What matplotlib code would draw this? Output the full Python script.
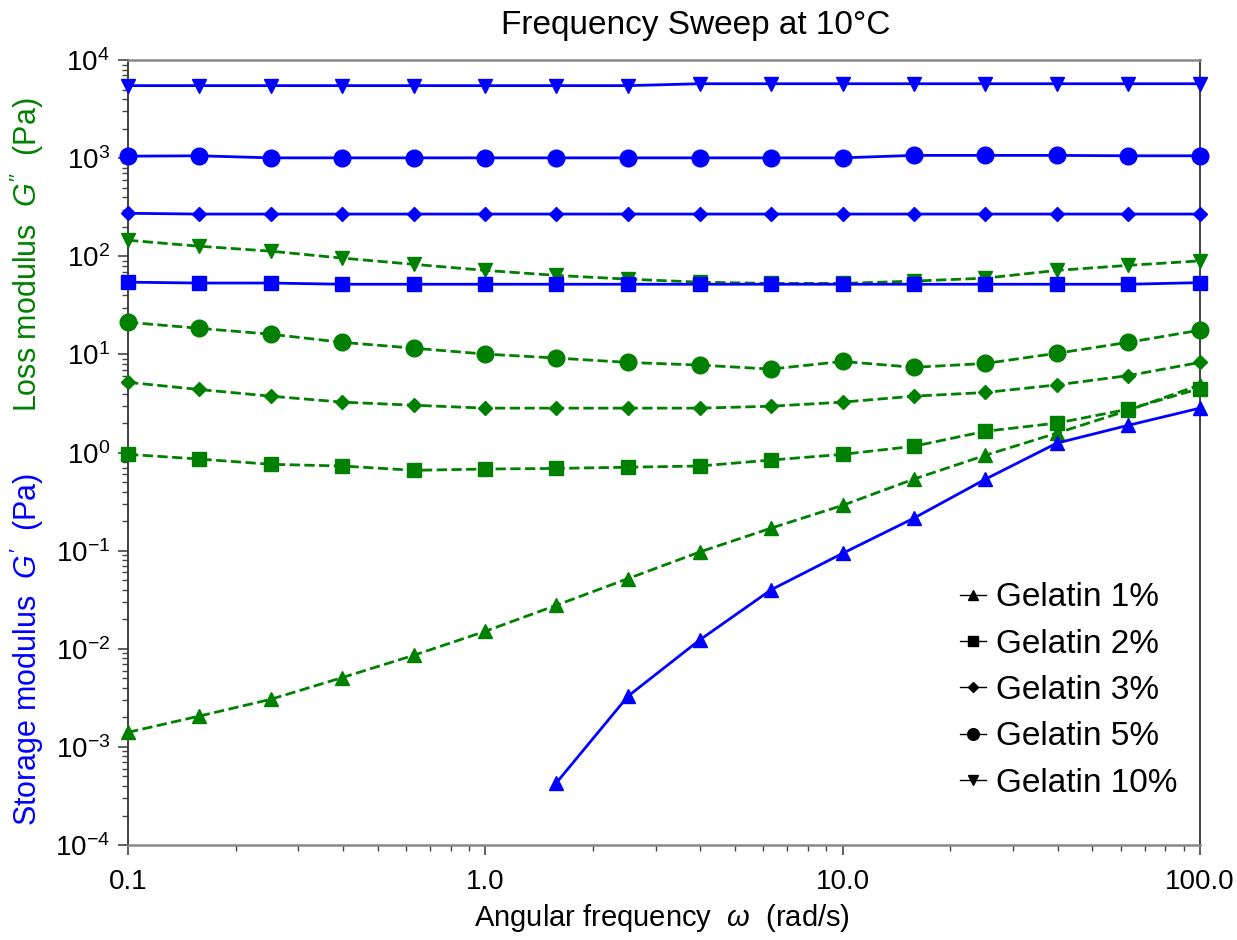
import matplotlib.pyplot as plt
from matplotlib.lines import Line2D
from matplotlib.ticker import FixedLocator, FixedFormatter, NullFormatter, LogFormatterSciNotation

plt.rcParams['font.family'] = ['Liberation Sans', 'DejaVu Sans']
plt.rcParams['mathtext.fontset'] = 'custom'
plt.rcParams['mathtext.rm'] = 'Liberation Sans'
plt.rcParams['mathtext.it'] = 'Liberation Sans:italic'

# angular frequency (rad/s)
freq = [0.1, 0.158, 0.251, 0.398, 0.631, 1.0, 1.58, 2.51, 3.98, 6.31,
        10.0, 15.8, 25.1, 39.8, 63.1, 100.0]

# storage modulus G' (Pa)
gp_1 = [None, None, None, None, None, None, 4.3e-4, 3.3e-3, 0.0123, 0.040,
        0.094, 0.214, 0.536, 1.25, 1.90, 2.84]
gp_2 = [54.6, 53.5, 53.5, 52, 52, 52, 52, 52, 52, 52, 52, 52, 52, 52, 52, 54]
gp_3 = [275, 270, 270, 270, 270, 270, 270, 270, 270, 270, 270, 270, 270, 270, 270, 270]
gp_5 = [1050, 1060, 1010, 1010, 1010, 1010, 1010, 1010, 1010, 1010, 1010,
        1070, 1070, 1070, 1060, 1060]
gp_10 = [5500, 5500, 5500, 5500, 5500, 5500, 5500, 5500, 5750, 5750, 5750,
         5750, 5750, 5750, 5750, 5750]

# loss modulus G'' (Pa)
gpp_1 = [1.41e-3, 2.06e-3, 3.06e-3, 5.1e-3, 8.6e-3, 0.0151, 0.0278, 0.052,
         0.097, 0.17, 0.29, 0.536, 0.94, 1.58, 2.7, 4.9]
gpp_2 = [0.96, 0.86, 0.76, 0.73, 0.66, 0.68, 0.69, 0.71, 0.73, 0.84, 0.96,
         1.16, 1.65, 2.0, 2.77, 4.5]
gpp_3 = [5.2, 4.4, 3.76, 3.27, 3.04, 2.84, 2.84, 2.84, 2.84, 2.97, 3.27,
         3.76, 4.1, 4.9, 6.1, 8.3]
gpp_5 = [21.3, 18.5, 16.1, 13.3, 11.6, 10.1, 9.2, 8.3, 7.8, 7.1, 8.5, 7.4,
         8.1, 10.3, 13.3, 17.7]
gpp_10 = [146, 127, 113, 96, 83, 72, 64, 58.6, 54.6, 53, 53, 56, 60, 72, 81, 90]

labels = ['Gelatin 1%', 'Gelatin 2%', 'Gelatin 3%', 'Gelatin 5%', 'Gelatin 10%']
markers = ['^', 's', 'D', 'o', 'v']
msizes = [10, 10, 7, 12, 10]

blue = '#0000ff'
green = '#008000'

fig = plt.figure(figsize=(12.37, 9.4), dpi=100)
ax = fig.add_axes([0.1035, 0.101, 0.8665, 0.835])

for ys, m, ms in zip([gpp_1, gpp_2, gpp_3, gpp_5, gpp_10], markers, msizes):
    ax.plot(freq, ys, color=green, ls='--', lw=2, marker=m, ms=ms, clip_on=False, zorder=3)

for ys, m, ms in zip([gp_1, gp_2, gp_3, gp_5, gp_10], markers, msizes):
    xx = [f for f, y in zip(freq, ys) if y is not None]
    yy = [y for y in ys if y is not None]
    ax.plot(xx, yy, color=blue, ls='-', lw=2, marker=m, ms=ms, clip_on=False, zorder=4)

ax.set_xscale('log')
ax.set_yscale('log')
ax.set_xlim(0.1, 100)
ax.set_ylim(1e-4, 1e4)

# ticks kept inside the view range only
xminor = [k * 10.0 ** e for e in range(-1, 2) for k in range(2, 10)]
yminor = [k * 10.0 ** e for e in range(-4, 4) for k in range(2, 10)]
ax.xaxis.set_major_locator(FixedLocator([0.1, 1, 10, 100]))
ax.xaxis.set_major_formatter(FixedFormatter(['0.1', '1.0', '10.0', '100.0']))
ax.xaxis.set_minor_locator(FixedLocator(xminor))
ax.xaxis.set_minor_formatter(NullFormatter())
ax.yaxis.set_major_locator(FixedLocator([10.0 ** e for e in range(-4, 5)]))
ax.yaxis.set_major_formatter(LogFormatterSciNotation())
ax.yaxis.set_minor_locator(FixedLocator(yminor))
ax.yaxis.set_minor_formatter(NullFormatter())

ax.tick_params(axis='both', which='major', direction='out', length=7, width=1.2,
               labelsize=20, color='#444444', pad=6)
ax.tick_params(axis='both', which='minor', direction='out', length=4, width=1, color='#444444')
ax.tick_params(axis='x', which='major', pad=10)
ax.tick_params(top=False, right=False, which='both')

for side in ['left', 'right']:
    ax.spines[side].set_color('#333333')
    ax.spines[side].set_linewidth(1.3)
for side in ['top', 'bottom']:
    ax.spines[side].set_color('#888888')
    ax.spines[side].set_linewidth(1.8)

ax.set_xlabel(r'Angular frequency  $\omega$  (rad/s)', fontsize=21)
ax.xaxis.set_label_coords(0.498, -0.072)
fig.text(0.562, 0.973, 'Frequency Sweep at 10°C', ha='center', va='center', fontsize=24)

fig.text(0.022, 0.309, r"Storage modulus  $\mathit{G'}$  (Pa)", color=blue, fontsize=22,
         rotation=90, ha='center', va='center')
fig.text(0.022, 0.729, r"Loss modulus  $\mathit{G''}$  (Pa)", color=green, fontsize=22,
         rotation=90, ha='center', va='center')

handles = [Line2D([], [], color='black', lw=1, marker=m, ms=ms * 0.7) for m, ms in zip(markers, msizes)]
ax.legend(handles, labels, loc='center left', bbox_to_anchor=(0.776, 0.197), frameon=False,
          fontsize=24, handlelength=0.8, handletextpad=0.3, labelspacing=0.46,
          borderpad=0, borderaxespad=0)

fig.savefig('out.png', dpi=100)
